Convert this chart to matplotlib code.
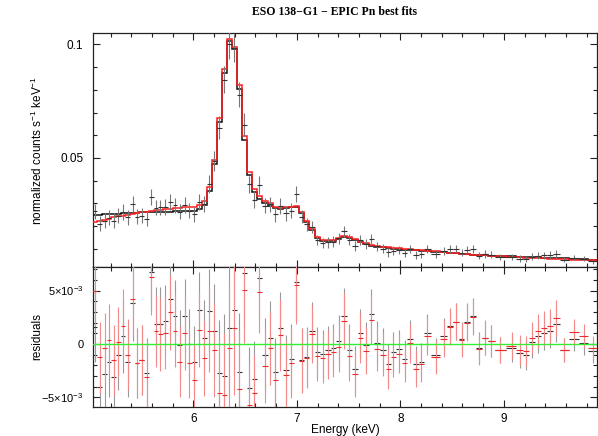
import numpy as np
import matplotlib
matplotlib.use("Agg")
import matplotlib.pyplot as plt
from matplotlib.ticker import MultipleLocator, FixedLocator, FixedFormatter

plt.rcParams['font.family'] = ['Liberation Sans', 'DejaVu Sans']
plt.rcParams['mathtext.fontset'] = 'custom'
plt.rcParams['mathtext.rm'] = 'Liberation Sans'
plt.rcParams['mathtext.it'] = 'Liberation Sans:italic'
plt.rcParams['mathtext.bf'] = 'Liberation Sans:bold'

# ---------------- data (flux values in units of 1e-3 counts/s/keV) ----------------
energy = [5.045, 5.096, 5.142, 5.183, 5.231, 5.274, 5.318, 5.366, 5.412, 5.457, 5.501,
          5.547, 5.595, 5.636, 5.682, 5.730, 5.778, 5.824, 5.868, 5.916, 5.961, 6.010,
          6.058, 6.106, 6.154, 6.203, 6.251, 6.299, 6.347, 6.395, 6.444, 6.492,
          6.540, 6.588, 6.636, 6.694, 6.743, 6.791, 6.839, 6.897, 6.945, 6.993,
          7.051, 7.094, 7.146, 7.196, 7.251, 7.299, 7.352, 7.403, 7.458,
          7.506, 7.561, 7.614, 7.668, 7.721, 7.772, 7.829, 7.885, 7.933,
          7.987, 8.040, 8.095, 8.149, 8.203, 8.257,
          8.343, 8.424, 8.481, 8.533, 8.591, 8.647, 8.703, 8.764, 8.816, 8.872, 8.960,
          9.076, 9.160, 9.214, 9.272, 9.330, 9.392, 9.449, 9.507, 9.584, 9.674, 9.770, 9.860]

flux = [26.6, 21.1, 22.4, 23.65, 22.3, 24.5, 26.3, 24.0, 29.6, 24.1, 24.5,
        23.25, 32.8, 28.1, 28.2, 28.45, 30.6, 29.1, 26.4, 29.25, 26.7, 25.15,
        30.6, 29.9, 38.6, 48.45, 63.25, 84.5, 100.0, 98.5, 77.9, 64.6,
        38.35, 31.7, 38.2, 29.0, 29.6, 25.2, 28.85, 25.6, 26.8, 34.2,
        24.2, 20.8, 19.5, 13.9, 12.65, 12.8, 13.2, 14.7, 17.65,
        14.05, 11.45, 13.8, 12.1, 14.2, 11.05, 10.05, 8.4, 9.25,
        9.4, 8.3, 9.95, 7.4, 7.55, 10.0,
        7.65, 9.1, 9.8, 10.1, 8.25, 9.7, 10.0, 6.9, 7.75, 7.35, 6.35,
        6.3, 5.7, 5.45, 6.5, 7.0, 7.2, 7.25, 7.85, 5.25, 6.15, 5.55, 4.6]

flux_err = [3.3, 3.3, 3.3, 3.3, 3.3, 3.3, 3.4, 3.3, 3.5, 3.3, 3.3,
            3.3, 3.6, 3.4, 3.4, 3.4, 3.5, 3.4, 3.3, 3.4, 3.3, 3.3,
            3.5, 3.5, 3.9, 4.4, 5.0, 5.8, 6.3, 6.2, 5.5, 5.0,
            3.9, 3.6, 3.9, 3.4, 3.4, 3.2, 3.4, 3.2, 3.3, 3.6,
            3.0, 2.8, 2.7, 2.4, 2.3, 2.3, 2.3, 2.4, 2.6,
            2.4, 2.2, 2.3, 2.2, 2.3, 2.1, 2.0, 1.9, 1.9,
            1.8, 1.8, 1.8, 1.7, 1.7, 1.8,
            1.6, 1.7, 1.7, 1.7, 1.6, 1.7, 1.7, 1.5, 1.6, 1.5, 1.2,
            1.3, 1.4, 1.4, 1.5, 1.6, 1.6, 1.6, 1.7, 1.1, 1.2, 1.1, 1.1]

model_black = [25.0, 25.1, 25.2, 25.3, 25.4, 25.5, 25.6, 25.7, 25.8, 25.9, 26.0,
               26.0, 26.1, 26.2, 26.3, 26.3, 26.4, 26.5, 26.5, 26.6, 26.7, 26.8,
               27.4, 29.3, 35.5, 47.2, 66.0, 87.5, 101.5, 98.0, 80.5, 58.0,
               42.5, 35.0, 32.0, 30.0, 29.0, 27.8, 27.4, 28.0, 28.2, 28.4,
               25.7, 22.0, 18.3, 14.7, 13.6, 13.4, 13.6, 14.4, 15.0,
               14.6, 13.8, 12.8, 12.2, 11.4, 11.0, 10.6, 10.3, 10.0,
               9.9, 9.7, 9.5, 9.3, 9.2, 9.0,
               8.7, 8.4, 8.1, 8.0, 7.8, 7.6, 7.4, 7.3, 7.2, 7.05, 6.9,
               6.7, 6.55, 6.45, 6.35, 6.25, 6.15, 6.05, 5.95, 5.8, 5.65, 5.5, 5.3]

model_red = [21.6, 22.35, 22.8, 23.25, 23.8, 24.3, 24.6, 25.0, 25.4, 25.9, 26.0,
             26.3, 26.5, 26.9, 27.3, 27.4, 27.65, 27.85, 28.05, 28.25, 28.5, 28.55,
             29.2, 31.2, 37.3, 49.0, 67.8, 89.0, 102.5, 99.0, 82.0, 59.5,
             44.0, 36.3, 33.3, 31.1, 30.0, 28.5, 28.0, 28.5, 28.6, 28.7,
             26.0, 22.2, 18.6, 15.0, 14.0, 13.8, 14.0, 14.9, 15.5,
             15.1, 14.3, 13.2, 12.7, 11.9, 11.4, 11.0, 10.7, 10.4,
             10.3, 10.0, 9.9, 9.7, 9.4, 9.2,
             8.85, 8.6, 8.2, 8.0, 7.85, 7.7, 7.45, 7.4, 7.15, 7.05, 6.9,
             6.45, 6.25, 6.1, 5.95, 5.85, 5.75, 5.6, 5.5, 5.4, 5.25, 5.1, 4.95]

resid_black = [1.6, -4.0, -2.8, -1.65, -3.1, -1.0, 0.7, -1.7, 3.8, -1.8, -1.5,
               -2.75, 6.7, 1.9, 1.9, 2.15, 4.2, 2.6, -0.1, 2.65, 0.0, -1.65,
               3.2, 0.6, 3.1, 1.25, -2.75, -3.0, 1.45, 3.2, -2.6, 6.6,
               -4.15, -3.3, 6.2, -1.0, 0.6, -2.6, 1.45, -2.4, -1.4, 5.8,
               -1.5, -1.2, 1.2, -0.8, -0.95, -0.6, -0.4, 0.3, 2.65,
               -0.55, -2.35, 1.0, -0.1, 2.8, 0.05, -0.55, -1.9, -0.75,
               -0.5, -1.4, 0.45, -1.9, -1.65, 1.0,
               -1.05, 0.7, 1.7, 2.1, 0.45, 2.1, 2.6, -0.4, 0.55, 0.3, -0.55,
               -0.4, -0.85, -1.0, 0.15, 0.75, 1.05, 1.2, 1.9, -0.55, 0.5, 0.05, -0.7]

resid_red = [5.0, -1.25, -0.4, 0.4, -1.5, 0.2, 1.7, -1.0, 4.2, -1.8, -1.5,
             -3.05, 6.3, 1.2, 0.9, 1.05, 2.95, 1.25, -1.65, 1.0, -1.8, -3.4,
             1.35, -1.35, 1.25, -0.6, -4.6, -4.75, -0.4, 1.45, -4.25, 5.05,
             -5.7, -4.6, 4.9, -2.1, -0.4, -3.35, 0.85, -2.9, -1.8, 5.5,
             -1.55, -1.35, 0.9, -1.1, -1.35, -0.95, -0.8, -0.25, 2.15,
             -1.1, -2.8, 0.55, -0.65, 2.25, -0.45, -1.0, -2.35, -1.2,
             -0.9, -1.75, 0.05, -2.3, -1.9, 0.75,
             -1.2, 0.5, 1.6, 2.1, 0.4, 2.0, 2.55, -0.5, 0.6, 0.3, -0.55,
             -0.15, -0.55, -0.7, 0.6, 1.2, 1.45, 1.7, 2.4, -0.55, 1.1, 0.75, -0.35]

title = "ESO 138\u2212G1 \u2212 EPIC Pn best fits"
xlabel = "Energy (keV)"
ylabel_top = r"normalized counts s$^{-1}$ keV$^{-1}$"
ylabel_bot = "residuals"
xticks = [6, 7, 8, 9]
yticks_top = [0.05, 0.1]
yticklabels_top = ["0.05", "0.1"]
yticks_bot = [-5e-3, 0.0, 5e-3]
yticklabels_bot = [r"$-5{\times}10^{-3}$", "0", r"$5{\times}10^{-3}$"]

# ---------------- derived arrays ----------------
scale = 1e-3
E = np.array(energy)
mids = (E[1:] + E[:-1]) / 2
edges = np.concatenate([[E[0] - (mids[0] - E[0])], mids, [E[-1] + (E[-1] - mids[-1])]])
xerr = [E - edges[:-1], edges[1:] - E]
F = np.array(flux) * scale
Ferr = np.array(flux_err) * scale
MB = np.array(model_black) * scale
MR = np.array(model_red) * scale
RB = np.array(resid_black) * scale
RR = np.array(resid_red) * scale

W, H = 598, 436
fig = plt.figure(figsize=(W / 100, H / 100), dpi=100)
ax1 = fig.add_axes([93 / W, 1 - 267 / H, 504 / W, 234 / H])
ax2 = fig.add_axes([93 / W, 1 - 407 / H, 504 / W, 140 / H])

lw = 0.8
# top panel
ax1.errorbar(E, F, yerr=Ferr, fmt='none', ecolor='#777777', elinewidth=lw, zorder=4)
ax1.errorbar(E, F, xerr=xerr, fmt='none', ecolor='#333333', elinewidth=lw, zorder=4)
ax1.stairs(MB, edges, baseline=None, color='#111111', lw=1.1, zorder=3)
ax1.stairs(MR, edges, baseline=None, color='#ff1c1c', lw=1.1, zorder=3.5)

# bottom panel
ax2.errorbar(E, RB, yerr=Ferr, fmt='none', ecolor='#999999', elinewidth=lw, zorder=3)
ax2.errorbar(E, RB, xerr=xerr, fmt='none', ecolor='#333333', elinewidth=lw, zorder=3)
ax2.errorbar(E, RR, yerr=Ferr, fmt='none', ecolor='#f28a8a', elinewidth=lw, zorder=3.5)
ax2.errorbar(E, RR, xerr=xerr, fmt='none', ecolor='#ee2a2a', elinewidth=lw, zorder=3.5)
ax2.axhline(0, color='#33ee33', lw=1.0, zorder=5)

for ax in (ax1, ax2):
    ax.set_xlim(5.03, 9.9)
    ax.xaxis.set_major_locator(FixedLocator(xticks))
    ax.xaxis.set_minor_locator(MultipleLocator(0.2))
    ax.tick_params(which='both', direction='in', top=True, right=True,
                   color='#222222', width=0.8, labelsize=8.5)
    ax.tick_params(which='major', length=5)
    ax.tick_params(which='minor', length=2.6)
    ax.tick_params(axis='y', pad=7)
    ax.tick_params(axis='x', pad=4)
    for s in ax.spines.values():
        s.set_color('#222222')
        s.set_linewidth(0.9)

ax1.set_ylim(0.0020, 0.1050)
ax1.yaxis.set_major_locator(FixedLocator(yticks_top))
ax1.yaxis.set_major_formatter(FixedFormatter(yticklabels_top))
ax1.yaxis.set_minor_locator(MultipleLocator(0.01))
ax1.tick_params(labelbottom=False)

ax2.set_ylim(-5.9e-3, 7.2e-3)
ax2.yaxis.set_major_locator(FixedLocator(yticks_bot))
ax2.yaxis.set_major_formatter(FixedFormatter(yticklabels_bot))
ax2.yaxis.set_minor_locator(MultipleLocator(1e-3))
ax2.tick_params(axis='y', labelsize=8)

fig.text(335 / W, 1 - 12 / H, title, ha='center', va='center', fontsize=8.5,
         fontweight='bold', family=['Liberation Serif', 'DejaVu Serif'])
fig.text(37 / W, 1 - 150 / H, ylabel_top, rotation=90, ha='center', va='center', fontsize=8.5)
fig.text(37 / W, 1 - 337 / H, ylabel_bot, rotation=90, ha='center', va='center', fontsize=8.5)
fig.text(345 / W, 1 - 430 / H, xlabel, ha='center', va='center', fontsize=8.5)

fig.savefig("out.png", dpi=100)
